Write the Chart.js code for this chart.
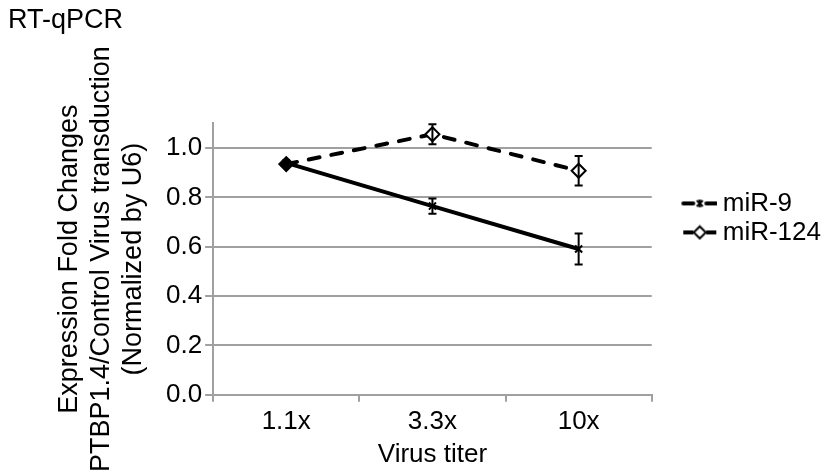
<!DOCTYPE html>
<html>
<head>
<meta charset="utf-8">
<script src="https://cdn.jsdelivr.net/npm/chart.js@4.4.0/dist/chart.umd.min.js"></script>
<style>
  html, body { margin: 0; padding: 0; background: #fff; }
</style>
</head>
<body>
<canvas id="chart" width="827" height="472"></canvas>
<script>
// data
const titers = ['1.1x', '3.3x', '10x'];
const mir9 = [0.935, 1.056, 0.908];
const mir9Err = [0, 0.041, 0.06];
const mir124 = [0.94, 0.765, 0.591];
const mir124Err = [0, 0.031, 0.063];
const yTicks = [0, 0.2, 0.4, 0.6, 0.8, 1.0];
const yMax = 1.1;

const GRAY = '#a0a0a0';
const FONT = "'Liberation Sans', Arial, sans-serif";

Chart.defaults.color = '#000';
Chart.defaults.font.family = FONT;
Chart.defaults.font.size = 26;

// legend icons: line + marker drawn in the right part of a wider canvas
function legendIcon(kind) {
    const c = document.createElement('canvas');
    c.width = 70; c.height = 16;
    const g = c.getContext('2d');
    const x0 = 35, cx = x0 + 17.5, cy = 8;
    g.strokeStyle = '#000';
    g.lineWidth = 4;
    g.lineCap = kind === 'star' ? 'round' : 'butt';
    g.beginPath();
    g.moveTo(x0 + 1, cy); g.lineTo(x0 + 11, cy);
    g.moveTo(x0 + 24, cy); g.lineTo(x0 + 34, cy);
    g.stroke();
    g.lineWidth = 2;
    g.lineCap = 'butt';
    if (kind === 'star') {
        g.beginPath();
        g.moveTo(cx - 3, cy - 3); g.lineTo(cx + 3, cy + 3);
        g.moveTo(cx + 3, cy - 3); g.lineTo(cx - 3, cy + 3);
        g.moveTo(cx, cy - 4); g.lineTo(cx, cy + 4);
        g.stroke();
    } else {
        g.fillStyle = '#fff';
        g.beginPath();
        g.moveTo(cx - 6, cy); g.lineTo(cx, cy - 6); g.lineTo(cx + 6, cy); g.lineTo(cx, cy + 6);
        g.closePath();
        g.fill(); g.stroke();
    }
    return c;
}
const icons = [legendIcon('star'), legendIcon('diamond')];

// draws the error bars with the chart's own scales
const errorBars = {
    id: 'errorBars',
    afterDatasetsDraw(chart) {
        const { ctx, scales: { x, y } } = chart;
        ctx.save();
        ctx.strokeStyle = '#000';
        ctx.lineWidth = 2;
        chart.data.datasets.forEach(ds => {
            ds.data.forEach((v, i) => {
                const e = ds.errors[i];
                if (!e) return;
                const px = x.getPixelForValue(i);
                const top = y.getPixelForValue(v + e);
                const bot = y.getPixelForValue(v - e);
                ctx.beginPath();
                ctx.moveTo(px, top); ctx.lineTo(px, bot);
                ctx.moveTo(px - 4, top); ctx.lineTo(px + 4, top);
                ctx.moveTo(px - 4, bot); ctx.lineTo(px + 4, bot);
                ctx.stroke();
            });
        });
        ctx.restore();
    }
};

new Chart(document.getElementById('chart'), {
    type: 'line',
    data: {
        labels: titers,
        datasets: [{
            label: 'miR-9',
            data: mir9,
            errors: mir9Err,
            borderColor: '#000',
            borderWidth: 4,
            borderDash: [11, 12],
            borderCapStyle: 'round',
            pointStyle: 'rectRot',
            pointRadius: 7,
            pointBorderWidth: 2,
            pointBorderColor: '#000',
            pointBackgroundColor: ['#000', '#fff', '#fff'],
            tension: 0
        }, {
            label: 'miR-124',
            data: mir124,
            errors: mir124Err,
            borderColor: '#000',
            borderWidth: 4,
            pointStyle: 'crossRot',
            pointRadius: 5,
            pointBorderWidth: 2,
            pointBorderColor: '#000',
            tension: 0
        }]
    },
    options: {
        responsive: false,
        animation: false,
        layout: { padding: { left: 8, right: -4, top: 0, bottom: 3 } },
        plugins: {
            title: {
                display: true,
                text: 'RT-qPCR',
                align: 'start',
                font: { size: 27, weight: 'normal' },
                padding: { top: 4, bottom: 87 }
            },
            legend: {
                position: 'right',
                align: 'start',
                fullSize: false,
                title: { display: true, text: '', font: { size: 10 }, padding: { top: 52, bottom: 0 } },
                labels: {
                    usePointStyle: true,
                    pointStyleWidth: 55,
                    padding: 3,
                    font: { size: 26 },
                    generateLabels: chart => Chart.defaults.plugins.legend.labels.generateLabels(chart)
                        .map((item, i) => ({ ...item, pointStyle: icons[i] }))
                }
            },
            tooltip: { enabled: false }
        },
        scales: {
            x: {
                offset: true,
                grid: { drawOnChartArea: false, offset: true, tickLength: 7, color: GRAY, lineWidth: 2 },
                border: { color: GRAY, width: 2 },
                ticks: { padding: 4 },
                title: {
                    display: true,
                    text: 'Virus titer',
                    font: { size: 26, lineHeight: 1.0 },
                    padding: { top: 1, bottom: 1 }
                }
            },
            y: {
                min: 0,
                max: yMax,
                afterBuildTicks: axis => { axis.ticks = yTicks.map(v => ({ value: v })); },
                grid: { color: GRAY, lineWidth: 2, tickLength: 8 },
                border: { color: GRAY, width: 2 },
                ticks: { padding: 3, callback: v => Number(v).toFixed(1) },
                title: {
                    display: true,
                    text: ['Expression Fold Changes', 'PTBP1.4/Control Virus transduction', '(Normalized by U6)'],
                    font: { size: 27, lineHeight: 1.185 },
                    padding: { top: 46, bottom: 13 }
                }
            }
        }
    },
    plugins: [errorBars]
});
</script>
</body>
</html>
